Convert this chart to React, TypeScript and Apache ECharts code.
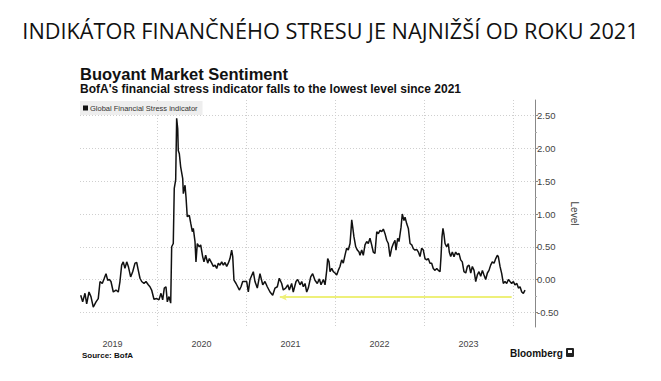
import React, { useEffect, useRef } from "react";
import * as echarts from "echarts";

const TITLE = "INDIKÁTOR FINANČNÉHO STRESU JE NAJNIŽŠÍ OD ROKU 2021";
const CHART_TITLE = "Buoyant Market Sentiment";
const CHART_SUBTITLE = "BofA's financial stress indicator falls to the lowest level since 2021";
const SERIES_NAME = "Global Financial Stress indicator";
const SOURCE = "Source: BofA";

const yearStarts = [2020, 2021, 2022, 2023, 2024];
const yearLabelPos = [2019.5, 2020.5, 2021.5, 2022.5, 2023.5];
const yTicks = [-0.5, 0, 0.5, 1, 1.5, 2, 2.5];

const dates = [
  2019.143, 2019.165, 2019.191, 2019.21, 2019.236, 2019.258, 2019.284, 2019.315, 2019.34, 2019.36,
  2019.385, 2019.408, 2019.427, 2019.446, 2019.464, 2019.483, 2019.509, 2019.539, 2019.565, 2019.584,
  2019.603, 2019.621, 2019.64, 2019.66, 2019.678, 2019.704, 2019.727, 2019.753, 2019.772, 2019.79,
  2019.809, 2019.828, 2019.854, 2019.876, 2019.902, 2019.921, 2019.94, 2019.966, 2019.997, 2020.022,
  2020.045, 2020.064, 2020.082, 2020.101, 2020.116, 2020.135, 2020.154, 2020.165, 2020.183, 2020.194,
  2020.21, 2020.221, 2020.233, 2020.239, 2020.251, 2020.266, 2020.289, 2020.296, 2020.315, 2020.326,
  2020.34, 2020.363, 2020.379, 2020.397, 2020.408, 2020.427, 2020.438, 2020.453, 2020.475, 2020.491,
  2020.513, 2020.528, 2020.547, 2020.57, 2020.588, 2020.615, 2020.633, 2020.652, 2020.671, 2020.689,
  2020.708, 2020.727, 2020.745, 2020.764, 2020.783, 2020.801, 2020.82, 2020.839, 2020.851, 2020.865,
  2020.888, 2020.907, 2020.925, 2020.944, 2020.963, 2021.008, 2021.026, 2021.045, 2021.082, 2021.101,
  2021.127, 2021.157, 2021.188, 2021.213, 2021.239, 2021.27, 2021.3, 2021.326, 2021.352, 2021.374,
  2021.401, 2021.419, 2021.446, 2021.469, 2021.487, 2021.513, 2021.531, 2021.562, 2021.581, 2021.607,
  2021.626, 2021.644, 2021.663, 2021.682, 2021.7, 2021.727, 2021.749, 2021.775, 2021.801, 2021.824,
  2021.843, 2021.869, 2021.888, 2021.907, 2021.918, 2021.933, 2021.944, 2021.963, 2021.981, 2022.0,
  2022.019, 2022.037, 2022.056, 2022.075, 2022.093, 2022.112, 2022.131, 2022.149, 2022.169, 2022.18,
  2022.188, 2022.199, 2022.213, 2022.233, 2022.251, 2022.27, 2022.281, 2022.3, 2022.318, 2022.337,
  2022.356, 2022.374, 2022.393, 2022.412, 2022.43, 2022.449, 2022.469, 2022.487, 2022.506, 2022.525,
  2022.543, 2022.562, 2022.581, 2022.599, 2022.618, 2022.637, 2022.656, 2022.674, 2022.685, 2022.704,
  2022.719, 2022.742, 2022.756, 2022.775, 2022.787, 2022.806, 2022.824, 2022.843, 2022.862, 2022.88,
  2022.899, 2022.918, 2022.937, 2022.955, 2022.974, 2022.992, 2023.011, 2023.03, 2023.048, 2023.067,
  2023.086, 2023.104, 2023.124, 2023.143, 2023.161, 2023.18, 2023.191, 2023.202, 2023.213, 2023.225,
  2023.236, 2023.255, 2023.273, 2023.284, 2023.3, 2023.318, 2023.337, 2023.356, 2023.374, 2023.393,
  2023.412, 2023.43, 2023.449, 2023.469, 2023.487, 2023.506, 2023.525, 2023.543, 2023.562, 2023.581,
  2023.599, 2023.618, 2023.637, 2023.656, 2023.674, 2023.693, 2023.712, 2023.73, 2023.749, 2023.767,
  2023.787, 2023.806, 2023.824, 2023.835, 2023.854, 2023.873, 2023.891, 2023.91, 2023.929, 2023.948,
  2023.966, 2023.985, 2024.004, 2024.022, 2024.043, 2024.061, 2024.079, 2024.098, 2024.116, 2024.135,
];

const values = [
  -0.24, -0.34, -0.21, -0.37, -0.19, -0.26, -0.42, -0.34, -0.29, -0.03,
  -0.06, 0.02, 0.09, -0.01, 0.0, -0.03, -0.19, -0.16, -0.19, -0.03,
  0.22, 0.27, 0.17, 0.27, 0.2, 0.04, 0.12, 0.25, 0.26, 0.14,
  0.02, -0.03, -0.06, -0.03, -0.08, -0.11, -0.16, -0.3, -0.29, -0.31,
  -0.21, -0.31, -0.13, -0.11, -0.34, -0.26, -0.36, 0.5, 0.55, 1.39,
  1.52, 2.46, 2.3, 1.97, 1.92, 1.72, 1.54, 1.31, 1.44, 1.26,
  0.96, 0.98, 0.86, 0.73, 0.78, 0.58, 0.27, 0.55, 0.5, 0.53,
  0.35, 0.27, 0.37, 0.25, 0.32, 0.25, 0.2, 0.22, 0.17, 0.25,
  0.22, 0.27, 0.22, 0.26, 0.2, 0.25, 0.32, 0.45, 0.35, -0.01,
  -0.06, -0.11, -0.16, -0.11, -0.03, -0.03, -0.19, 0.0, 0.12, -0.03,
  -0.13, 0.09, -0.08, -0.03, -0.11, -0.19, -0.24, -0.13, -0.11, 0.02,
  -0.06, -0.16, -0.13, -0.08, -0.16, -0.06, -0.19, -0.03, 0.0, -0.08,
  -0.03, -0.11, -0.06, -0.19, -0.13, 0.04, 0.09, -0.01, -0.06, 0.01,
  -0.08, 0.0, -0.08, 0.14, 0.32, 0.27, 0.12, 0.17, 0.12, 0.1,
  0.07, 0.14, 0.2, 0.3, 0.25, 0.37, 0.48, 0.45, 0.55, 0.75,
  0.91, 0.8, 0.65, 0.5, 0.45, 0.42, 0.37, 0.45, 0.37, 0.53,
  0.58, 0.55, 0.63, 0.53, 0.42, 0.4, 0.73, 0.7, 0.75, 0.73,
  0.77, 0.7, 0.6, 0.55, 0.35, 0.48, 0.55, 0.6, 0.45, 0.63,
  0.58, 0.8, 1.0, 0.9, 0.95, 0.85, 0.78, 0.55, 0.53, 0.47,
  0.45, 0.46, 0.42, 0.35, 0.48, 0.45, 0.32, 0.3, 0.32, 0.25,
  0.25, 0.17, 0.14, 0.17, 0.14, 0.12, 0.35, 0.65, 0.78, 0.68,
  0.55, 0.5, 0.55, 0.42, 0.35, 0.42, 0.35, 0.42, 0.38, 0.4,
  0.3, 0.27, 0.12, 0.1, 0.2, 0.22, 0.1, 0.2, 0.14, -0.03,
  0.07, 0.12, 0.05, 0.14, 0.07, 0.0, 0.1, 0.14, 0.22, 0.27,
  0.25, 0.32, 0.37, 0.35, 0.2, 0.09, -0.06, -0.03, -0.06, 0.0,
  -0.03, -0.06, -0.03, -0.08, -0.06, -0.13, -0.11, -0.19, -0.21, -0.16,
];

// Yellow "lowest since 2021" arrow: from latest back to mid-2021 level
const arrowFrom = [2023.985, -0.27];
const arrowTo = [2021.38, -0.27];

const X_MIN = 2019.135;
const X_MAX = 2024.247;
const Y_MIN = -0.724;
const Y_MAX = 2.74;

const SANS = '"Liberation Sans", Arial, sans-serif';

export default function App() {
  const ref = useRef<HTMLDivElement>(null);

  useEffect(() => {
    if (!ref.current) return;
    const chart = echarts.init(ref.current, null, { renderer: "svg" });
    const data = dates.map((d, i) => [d, values[i]]);

    chart.setOption({
      animation: false,
      backgroundColor: "#ffffff",
      textStyle: { fontFamily: SANS },
      grid: { left: 80, right: 126, top: 100, bottom: 54, containLabel: false },
      legend: {
        data: [SERIES_NAME],
        left: 80,
        top: 101,
        icon: "rect",
        itemWidth: 5,
        itemHeight: 5,
        backgroundColor: "#eeeeee",
        padding: [3, 5, 3, 3],
        textStyle: { fontSize: 7.5, color: "#333333", fontFamily: SANS, padding: [0, 0, 0, -3] },
        selectedMode: false,
      },
      xAxis: {
        type: "value",
        min: X_MIN,
        max: X_MAX,
        axisLine: { show: false },
        axisTick: { show: false, customValues: yearStarts },
        splitLine: { show: true, lineStyle: { type: [1, 2], color: "#cfcfcf", width: 1 } },
        axisLabel: {
          customValues: yearLabelPos,
          formatter: (v: number) => String(Math.floor(v)),
          color: "#444",
          fontSize: 9,
          margin: 12,
          fontFamily: SANS,
        },
      },
      yAxis: {
        type: "value",
        position: "right",
        min: Y_MIN,
        max: Y_MAX,
        name: "Level",
        nameLocation: "middle",
        nameRotate: -90,
        nameGap: 30,
        nameTextStyle: { fontSize: 10, color: "#444", fontFamily: SANS },
        axisLine: { show: true, lineStyle: { color: "#888", width: 1 } },
        axisTick: { show: true, customValues: yTicks, length: 3, lineStyle: { color: "#888" } },
        minorTick: { show: true, splitNumber: 2, length: 2, lineStyle: { color: "#aaa" } },
        splitLine: { show: true, lineStyle: { type: [1, 2], color: "#cfcfcf", width: 1 } },
        axisLabel: {
          customValues: yTicks,
          formatter: (v: number) => v.toFixed(2),
          color: "#444",
          fontSize: 9.5,
          margin: 2,
          fontFamily: SANS,
        },
      },
      series: [
        {
          name: SERIES_NAME,
          type: "line",
          data,
          showSymbol: false,
          symbol: "none",
          lineStyle: { color: "#111", width: 1.5 },
          itemStyle: { color: "#111" },
          markLine: {
            silent: true,
            symbol: ["arrow", "none"],
            symbolSize: [5, 7],
            label: { show: false },
            lineStyle: { color: "#eef07a", width: 2, type: "solid" },
            data: [[{ coord: arrowTo }, { coord: arrowFrom }]],
          },
        },
      ],
      graphic: [
        {
          type: "text",
          left: "center",
          top: 19,
          style: { text: TITLE, font: `400 21.7px "Open Sans", sans-serif`, fill: "#111" },
        },
        {
          type: "text",
          x: 80,
          y: 65,
          style: { text: CHART_TITLE, font: `bold 16.5px ${SANS}`, fill: "#111" },
        },
        {
          type: "text",
          x: 80,
          y: 83,
          style: { text: CHART_SUBTITLE, font: `bold 12px ${SANS}`, fill: "#111" },
        },
        {
          type: "text",
          x: 82,
          y: 351,
          style: { text: SOURCE, font: `bold 8px ${SANS}`, fill: "#111" },
        },
        {
          type: "text",
          x: 510,
          y: 348,
          style: { text: "Bloomberg", font: `bold 10px ${SANS}`, fill: "#111" },
        },
        {
          type: "rect",
          shape: { x: 566, y: 348, width: 8, height: 9, r: 1 },
          style: { fill: "#222" },
        },
        {
          type: "rect",
          shape: { x: 568, y: 350, width: 4, height: 3 },
          style: { fill: "#fff" },
        },
      ],
    });

    return () => chart.dispose();
  }, []);

  return (
    <div
      ref={ref}
      style={{ position: "absolute", left: 0, top: 0, width: 661, height: 381, background: "#fff" }}
    />
  );
}
